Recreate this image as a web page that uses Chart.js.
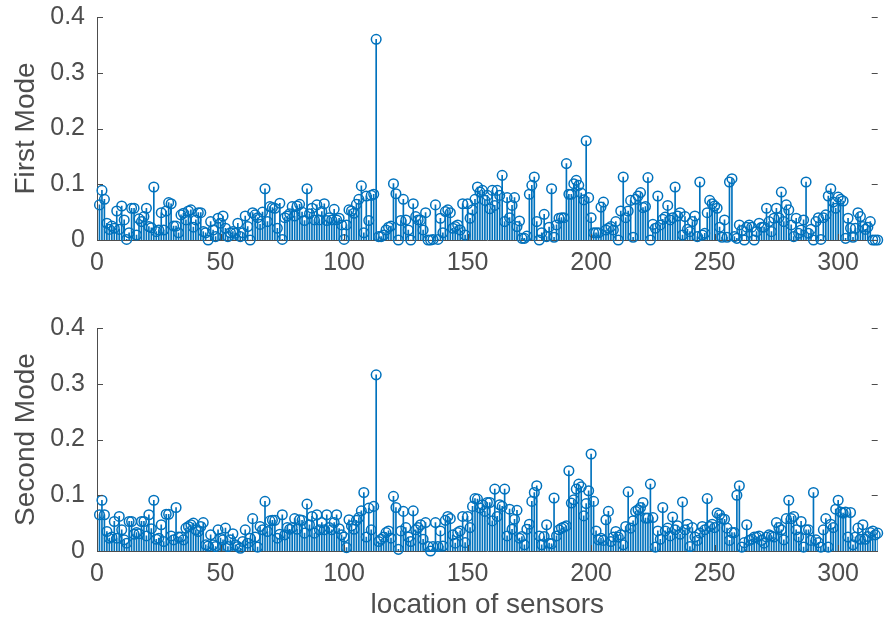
<!DOCTYPE html>
<html>
<head>
<meta charset="utf-8">
<script src="https://cdn.jsdelivr.net/npm/chart.js@4.4.0/dist/chart.umd.min.js"></script>
<style>
  body { margin: 0; background: #fff; }
  #wrap { position: relative; width: 884px; height: 622px; overflow: hidden; }
  canvas { position: absolute; left: 0; }
</style>
</head>
<body>
<div id="wrap">
  <canvas id="firstChart" width="884" height="302" style="top:-12px"></canvas>
  <canvas id="secondChart" width="884" height="322" style="top:300px"></canvas>
</div>
<script>
// Amplitudes for each sensor (sensor 1 .. 316)
const firstMode = [
  0.063, 0.089, 0.073, 0.030, 0.019, 0.025, 0.021, 0.052, 0.019, 0.061,
  0.036, 0.001, 0.013, 0.057, 0.057, 0.009, 0.038, 0.033, 0.042, 0.057,
  0.024, 0.022, 0.095, 0.015, 0.018, 0.049, 0.018, 0.052, 0.067, 0.065,
  0.025, 0.025, 0.013, 0.045, 0.048, 0.036, 0.052, 0.054, 0.023, 0.036,
  0.049, 0.049, 0.015, 0.013, 0.000, 0.033, 0.018, 0.006, 0.039, 0.030,
  0.043, 0.021, 0.006, 0.013, 0.015, 0.012, 0.030, 0.006, 0.013, 0.043,
  0.024, 0.000, 0.049, 0.045, 0.040, 0.028, 0.050, 0.092, 0.033, 0.060,
  0.058, 0.057, 0.021, 0.066, 0.001, 0.040, 0.043, 0.047, 0.060, 0.043,
  0.061, 0.064, 0.050, 0.035, 0.092, 0.047, 0.057, 0.036, 0.063, 0.036,
  0.051, 0.065, 0.035, 0.040, 0.036, 0.055, 0.036, 0.039, 0.027, 0.001,
  0.027, 0.054, 0.052, 0.048, 0.064, 0.073, 0.097, 0.013, 0.079, 0.035,
  0.080, 0.082, 0.360, 0.006, 0.006, 0.009, 0.018, 0.023, 0.025, 0.101,
  0.083, 0.000, 0.035, 0.073, 0.036, 0.018, 0.000, 0.065, 0.042, 0.036,
  0.036, 0.018, 0.049, 0.000, 0.000, 0.001, 0.063, 0.001, 0.039, 0.013,
  0.051, 0.054, 0.049, 0.021, 0.024, 0.027, 0.018, 0.065, 0.009, 0.065,
  0.039, 0.054, 0.073, 0.095, 0.086, 0.089, 0.071, 0.080, 0.056, 0.089,
  0.062, 0.089, 0.080, 0.116, 0.033, 0.076, 0.040, 0.062, 0.076, 0.024,
  0.034, 0.003, 0.003, 0.007, 0.082, 0.098, 0.113, 0.033, 0.000, 0.013,
  0.046, 0.006, 0.023, 0.092, 0.005, 0.027, 0.039, 0.040, 0.040, 0.137,
  0.082, 0.082, 0.101, 0.107, 0.098, 0.084, 0.072, 0.178, 0.076, 0.040,
  0.013, 0.013, 0.013, 0.059, 0.068, 0.018, 0.021, 0.024, 0.018, 0.033,
  0.000, 0.052, 0.113, 0.040, 0.052, 0.071, 0.005, 0.073, 0.079, 0.085,
  0.058, 0.060, 0.112, 0.000, 0.028, 0.021, 0.079, 0.027, 0.037, 0.041,
  0.062, 0.036, 0.040, 0.095, 0.043, 0.049, 0.009, 0.042, 0.019, 0.015,
  0.033, 0.043, 0.006, 0.104, 0.009, 0.012, 0.049, 0.071, 0.065, 0.061,
  0.057, 0.023, 0.005, 0.036, 0.005, 0.104, 0.110, 0.006, 0.003, 0.027,
  0.017, 0.000, 0.023, 0.027, 0.023, 0.000, 0.015, 0.030, 0.023, 0.023,
  0.057, 0.033, 0.015, 0.039, 0.057, 0.040, 0.086, 0.033, 0.063, 0.054,
  0.027, 0.006, 0.039, 0.012, 0.018, 0.036, 0.104, 0.012, 0.019, 0.000,
  0.033, 0.040, 0.001, 0.040, 0.045, 0.079, 0.092, 0.068, 0.057, 0.077,
  0.073, 0.070, 0.003, 0.039, 0.021, 0.005, 0.021, 0.049, 0.042, 0.024,
  0.019, 0.023, 0.033, 0.000, 0.000, 0.000
]

const secondMode = [
  0.065, 0.091, 0.065, 0.035, 0.023, 0.025, 0.053, 0.023, 0.062, 0.038,
  0.020, 0.014, 0.053, 0.053, 0.030, 0.033, 0.031, 0.053, 0.053, 0.027,
  0.065, 0.040, 0.091, 0.021, 0.023, 0.047, 0.017, 0.066, 0.066, 0.027,
  0.020, 0.078, 0.025, 0.025, 0.020, 0.041, 0.044, 0.047, 0.050, 0.038,
  0.035, 0.044, 0.051, 0.011, 0.009, 0.029, 0.011, 0.008, 0.038, 0.023,
  0.020, 0.041, 0.008, 0.020, 0.031, 0.011, 0.008, 0.005, 0.017, 0.038,
  0.014, 0.023, 0.058, 0.025, 0.007, 0.044, 0.038, 0.089, 0.035, 0.054,
  0.055, 0.055, 0.023, 0.030, 0.065, 0.029, 0.042, 0.039, 0.042, 0.058,
  0.039, 0.056, 0.055, 0.032, 0.084, 0.047, 0.062, 0.032, 0.065, 0.038,
  0.051, 0.038, 0.065, 0.042, 0.038, 0.051, 0.065, 0.040, 0.029, 0.025,
  0.006, 0.056, 0.045, 0.039, 0.055, 0.060, 0.072, 0.105, 0.025, 0.077,
  0.038, 0.080, 0.316, 0.017, 0.021, 0.025, 0.033, 0.036, 0.023, 0.098,
  0.078, 0.003, 0.036, 0.071, 0.042, 0.025, 0.017, 0.072, 0.038, 0.042,
  0.047, 0.021, 0.051, 0.008, 0.000, 0.008, 0.051, 0.008, 0.036, 0.009,
  0.055, 0.062, 0.058, 0.029, 0.014, 0.033, 0.036, 0.062, 0.015, 0.062,
  0.042, 0.080, 0.094, 0.093, 0.077, 0.083, 0.071, 0.087, 0.087, 0.054,
  0.111, 0.062, 0.083, 0.080, 0.111, 0.027, 0.075, 0.039, 0.057, 0.073,
  0.023, 0.026, 0.011, 0.039, 0.048, 0.089, 0.105, 0.117, 0.027, 0.011,
  0.026, 0.047, 0.014, 0.013, 0.095, 0.027, 0.038, 0.041, 0.043, 0.045,
  0.144, 0.086, 0.092, 0.111, 0.120, 0.115, 0.063, 0.085, 0.108, 0.174,
  0.089, 0.036, 0.020, 0.023, 0.019, 0.056, 0.071, 0.017, 0.025, 0.035,
  0.025, 0.029, 0.011, 0.044, 0.106, 0.041, 0.054, 0.071, 0.074, 0.078,
  0.087, 0.059, 0.059, 0.120, 0.060, 0.007, 0.036, 0.021, 0.078, 0.036,
  0.041, 0.027, 0.061, 0.038, 0.045, 0.030, 0.088, 0.038, 0.048, 0.008,
  0.042, 0.025, 0.019, 0.032, 0.044, 0.038, 0.094, 0.044, 0.048, 0.042,
  0.068, 0.065, 0.058, 0.057, 0.041, 0.019, 0.033, 0.033, 0.100, 0.117,
  0.007, 0.015, 0.047, 0.019, 0.021, 0.025, 0.025, 0.027, 0.019, 0.014,
  0.025, 0.029, 0.027, 0.025, 0.051, 0.042, 0.038, 0.020, 0.058, 0.091,
  0.058, 0.062, 0.038, 0.025, 0.053, 0.007, 0.038, 0.038, 0.019, 0.105,
  0.020, 0.015, 0.007, 0.038, 0.058, 0.007, 0.048, 0.042, 0.075, 0.091,
  0.070, 0.068, 0.070, 0.025, 0.069, 0.011, 0.025, 0.041, 0.021, 0.047,
  0.021, 0.026, 0.033, 0.036, 0.029, 0.032
]

const xTicks = [0, 50, 100, 150, 200, 250, 300]
const yTicks = [0, 0.1, 0.2, 0.3, 0.4]
const xMax = 316

const stemColor = '#0072BD'
const axisColor = '#4d4d4d'
const fontFamily = "'Liberation Sans', Arial, Helvetica, sans-serif"

// MATLAB style ticks pointing inside the axes
const innerTicks = {
  id: 'innerTicks',
  afterDraw(chart) {
    const { ctx, chartArea, scales } = chart
    ctx.save()
    ctx.strokeStyle = axisColor
    ctx.lineWidth = 1
    ctx.beginPath()
    yTicks.forEach((v) => {
      const y = Math.round(scales.y.getPixelForValue(v)) + 0.5
      ctx.moveTo(chartArea.left, y)
      ctx.lineTo(chartArea.left + 6, y)
      ctx.moveTo(chartArea.right, y)
      ctx.lineTo(chartArea.right - 6, y)
    })
    xTicks.forEach((v) => {
      const x = Math.round(scales.x.getPixelForValue(v)) + 0.5
      ctx.moveTo(x, chartArea.bottom)
      ctx.lineTo(x, chartArea.bottom - 6)
    })
    ctx.stroke()
    ctx.restore()
  },
}

function makeStemChart(id, values, yTitle, xTitle, padTop, xHeight) {
  const points = values.map((v, i) => ({ x: i + 1, y: v }))
  return new Chart(document.getElementById(id), {
    type: 'bar',
    data: {
      datasets: [
        {
          type: 'line',
          data: points,
          showLine: false,
          pointStyle: 'circle',
          pointRadius: 4.8,
          pointBorderWidth: 1.5,
          pointBackgroundColor: 'rgba(0,0,0,0)',
          pointBorderColor: stemColor,
          clip: false,
          order: 0,
        },
        {
          type: 'bar',
          data: points,
          backgroundColor: stemColor,
          barThickness: 1,
          order: 1,
        },
      ],
    },
    options: {
      responsive: false,
      animation: false,
      devicePixelRatio: 1,
      layout: { padding: { top: padTop, right: 0, left: 0, bottom: 0 } },
      plugins: { legend: { display: false }, tooltip: { enabled: false } },
      scales: {
        x: {
          type: 'linear',
          offset: false,
          min: 0,
          max: xMax,
          afterBuildTicks: (s) => { s.ticks = xTicks.map((v) => ({ value: v })) },
          afterFit: (s) => { s.height = xHeight },
          grid: { display: false, drawTicks: false, offset: false },
          border: { display: true, color: axisColor, width: 1 },
          ticks: {
            autoSkip: false,
            maxRotation: 0,
            padding: 8,
            color: axisColor,
            font: { family: fontFamily, size: 25 },
          },
          title: {
            display: !!xTitle,
            text: xTitle,
            color: axisColor,
            font: { family: fontFamily, size: 28 },
            padding: { top: 0, bottom: 0 },
          },
        },
        y: {
          min: 0,
          max: 0.4,
          afterBuildTicks: (s) => { s.ticks = yTicks.map((v) => ({ value: v })) },
          afterFit: (s) => { s.width = 97 },
          grid: { display: false, drawTicks: false },
          border: { display: true, color: axisColor, width: 1 },
          ticks: {
            padding: 12,
            color: axisColor,
            font: { family: fontFamily, size: 25 },
            callback: (v) => String(v),
          },
          title: {
            display: true,
            text: yTitle,
            color: axisColor,
            font: { family: fontFamily, size: 28 },
            padding: { top: 9, bottom: 0 },
          },
        },
      },
    },
    plugins: [innerTicks],
  })
}

makeStemChart('firstChart', firstMode, 'First Mode', '', 29, 50)
makeStemChart('secondChart', secondMode, 'Second Mode', 'location of sensors', 28, 71)
</script>
</body>
</html>
